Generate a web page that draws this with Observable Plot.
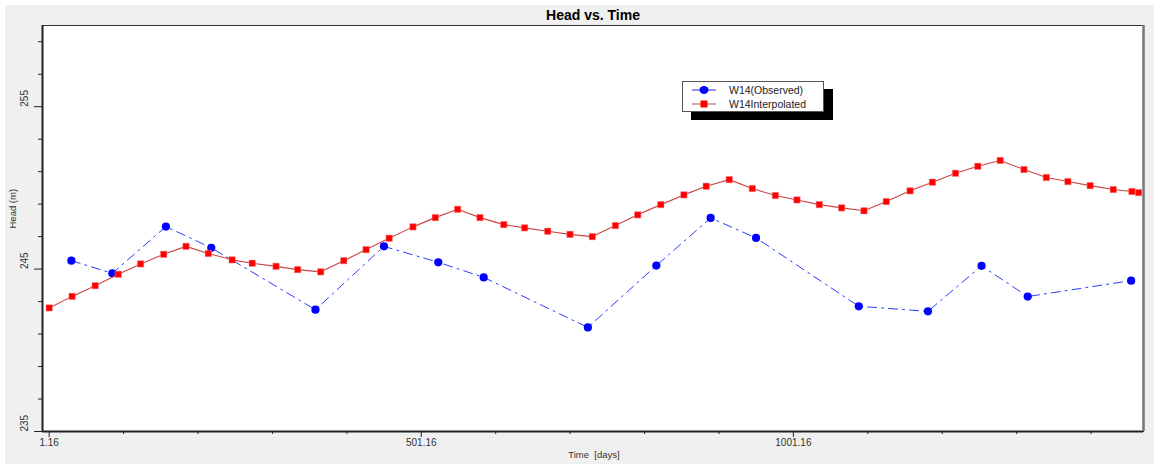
<!DOCTYPE html>
<html>
<head>
<meta charset="utf-8">
<script src="https://cdn.jsdelivr.net/npm/d3@7"></script>
<script src="https://cdn.jsdelivr.net/npm/@observablehq/plot@0.6"></script>
<style>
  html, body { margin: 0; padding: 0; background: #ffffff; }
  #wrap { position: relative; width: 1154px; height: 464px; overflow: hidden; font-family: "Liberation Sans", Arial, sans-serif; }
  #bg { position: absolute; left: 5px; top: 5px; right: 0; bottom: 0; background: #f0f0f0; }
  #chart { position: absolute; left: 0; top: 0; }
  #legend { position: absolute; left: 682px; top: 81px; width: 140px; height: 29px; background: #fff;
            border: 1px solid #555; box-shadow: 9px 8px 0 #000; font-size: 10.5px; color: #222; }
  .item { position: absolute; left: 0; height: 14px; display: flex; align-items: center; }
  .item svg { margin-left: 9px; }
  .item span { margin-left: 13px; }
</style>
</head>
<body>
<div id="wrap">
  <div id="bg"></div>
  <div id="chart"></div>
  <div id="legend">
    <div class="item" style="top:1px">
      <svg width="24" height="12"><line x1="0" y1="6" x2="24" y2="6" stroke="#2030ff" stroke-width="1"/><ellipse cx="12" cy="6" rx="4.5" ry="4" fill="#0000ff"/></svg>
      <span>W14(Observed)</span>
    </div>
    <div class="item" style="top:15px">
      <svg width="24" height="12"><line x1="0" y1="6" x2="24" y2="6" stroke="#c44" stroke-width="1"/><rect x="8.5" y="2.5" width="7" height="7" fill="#ff0000"/></svg>
      <span>W14Interpolated</span>
    </div>
  </div>
</div>
<script>
// Observed heads (W14)
const obsDays = [31, 86, 158, 219, 359, 451, 524, 585, 725, 817, 890, 951, 1089, 1182, 1254, 1316, 1455];
const obsHead = [245.52, 244.74, 247.62, 246.31, 242.50, 246.40, 245.42, 244.49, 241.41, 245.22, 248.15, 246.92, 242.71, 242.40, 245.20, 243.31, 244.29];

// Interpolated heads (W14)
const interpDays = [1.16, 32, 63, 94, 124, 155, 185, 215, 247, 274, 306, 335, 366, 397, 427, 458, 490, 520, 550, 580,
  612, 640, 671, 701, 731, 762, 792, 823, 854, 884, 915, 946, 977, 1006, 1036, 1066, 1096, 1126, 1158, 1188,
  1219, 1249, 1279, 1311, 1341, 1370, 1400, 1431, 1456, 1465];
const interpHead = [242.61, 243.32, 243.98, 244.68, 245.32, 245.91, 246.40, 245.96, 245.57, 245.36, 245.17, 244.97, 244.83, 245.52, 246.20, 246.90, 247.60, 248.17, 248.68, 248.17,
  247.74, 247.54, 247.33, 247.14, 247.00, 247.68, 248.34, 248.97, 249.57, 250.10, 250.51, 249.96, 249.53, 249.26, 248.97, 248.77, 248.59, 249.16, 249.82, 250.35,
  250.90, 251.33, 251.69, 251.13, 250.64, 250.39, 250.14, 249.90, 249.78, 249.71];

// Axes
const xDomain = [-7.8, 1471.6];
const yDomain = [235, 260];
const xMajor = [1.16, 501.16, 1001.16];
const xMinor = [101.16, 201.16, 301.16, 401.16, 601.16, 701.16, 801.16, 901.16, 1101.16, 1201.16, 1301.16, 1401.16];
const yMajor = [235, 245, 255];
const yMinor = [237, 239, 241, 243, 247, 249, 251, 253, 257, 259];

const obs = obsDays.map((d, i) => ({day: d, head: obsHead[i]}));
const interp = interpDays.map((d, i) => ({day: d, head: interpHead[i]}));

const font = '"Liberation Sans", Arial, sans-serif';

const chart = Plot.plot({
  width: 1154,
  height: 464,
  marginLeft: 42,
  marginRight: 11,
  marginTop: 25,
  marginBottom: 33,
  x: {domain: xDomain},
  y: {domain: yDomain},
  style: {background: "transparent", fontFamily: font, color: "#222"},
  marks: [
    Plot.frame({fill: "white", stroke: "#333", strokeWidth: 1}),
    Plot.axisY({ticks: yMinor, tickSize: 4, tickFormat: () => "", label: null, stroke: "#222"}),
    Plot.axisY({ticks: yMajor, tickSize: 8, tickFormat: () => "", label: null, stroke: "#222"}),
    Plot.text(yMajor, {y: d => d, text: d => String(d), frameAnchor: "left", rotate: -90, dx: -18, fontSize: 10, fill: "#333"}),
    Plot.axisX({ticks: xMinor, tickSize: 3, tickFormat: () => "", label: null, stroke: "#222"}),
    Plot.axisX({ticks: xMajor, tickSize: 6, tickPadding: 1, tickFormat: d => d.toFixed(2), label: null, fontSize: 10, stroke: "#222", fill: "#333"}),
    Plot.ruleX([xDomain[0]], {stroke: "#222", strokeWidth: 2}),
    Plot.ruleY([yDomain[0]], {stroke: "#222", strokeWidth: 2}),
    Plot.ruleX([xDomain[1]], {stroke: "#777", strokeWidth: 2.5}),
    Plot.lineY(obs, {x: "day", y: "head", stroke: "#2a3cff", strokeWidth: 1, strokeDasharray: "9,5,2,5"}),
    Plot.dot(obs, {x: "day", y: "head", r: 4.1, fill: "#0000ff", stroke: "none"}),
    Plot.lineY(interp, {x: "day", y: "head", stroke: "#c44", strokeWidth: 1.1}),
    Plot.dot(interp, {x: "day", y: "head", symbol: "square", r: 3.6, fill: "#ff0000", stroke: "#e88", strokeWidth: 0.5}),
    Plot.text(["Head vs. Time"], {frameAnchor: "top", lineAnchor: "middle", dy: -10, fontSize: 14, fontWeight: "bold", fill: "#000"}),
    Plot.text(["Head (m)"], {frameAnchor: "left", rotate: -90, dx: -30, fontSize: 9.5, fill: "#333"}),
    Plot.text(["Time\u00a0\u00a0[days]"], {frameAnchor: "bottom", lineAnchor: "middle", dy: 23, dx: 1, fontSize: 9.5, fill: "#333"})
  ]
});
document.getElementById("chart").appendChild(chart);
</script>
</body>
</html>
